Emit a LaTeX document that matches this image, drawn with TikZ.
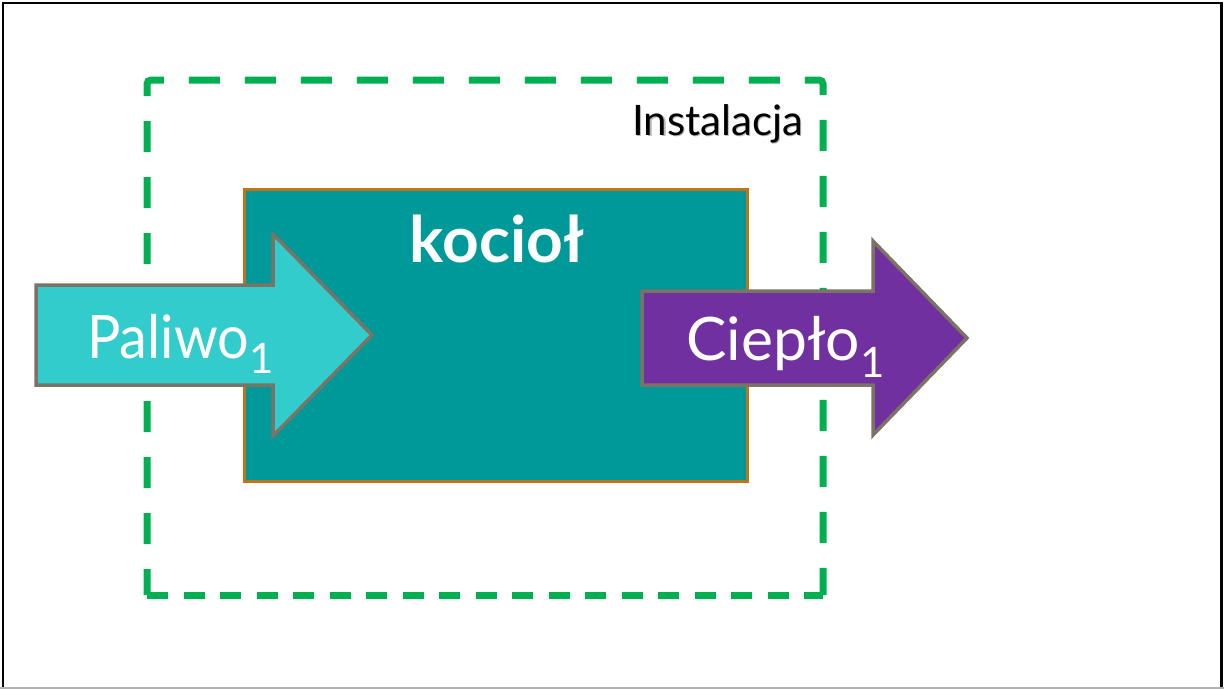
\documentclass[tikz,border=0pt]{standalone}
\usepackage{fontspec}
\setmainfont{Lato}
\definecolor{dgreen}{HTML}{00B050}
\definecolor{boxteal}{HTML}{009999}
\definecolor{boxedge}{HTML}{C0741A}
\definecolor{incyan}{HTML}{33CCCC}
\definecolor{outpurple}{HTML}{7030A0}
\definecolor{arredge}{HTML}{7A7366}
\tikzset{
  arrowshape/.style={draw=arredge, line width=3.5pt, line join=miter},
  flowtext/.style={text=white, anchor=base west, inner sep=0pt, font=\fontsize{60}{60}\selectfont},
  dashline/.style={draw=dgreen, line width=7pt},
}
\begin{document}
\begin{tikzpicture}[x=1pt,y=-1pt]
\useasboundingbox (0,0) rectangle (1224,689);
% frame
\draw[black, line width=2.5pt] (3,689) -- (3,3) -- (1221.5,3) -- (1221.5,689);
\draw[gray!60, line width=1.5pt] (0,688) -- (1224,688);
% dashed installation boundary
\draw[dashline, rounded corners=4pt, dash pattern=on 31pt off 25pt, dash phase=5pt]
  (147,595) -- (147,80) -- (823,80) -- (823,595);
\draw[dashline, dash pattern=on 21pt off 15.5pt] (147,595) -- (823,595);
% boiler box
\node[draw=boxedge, line width=2.5pt, fill=boxteal, minimum width=503pt, minimum height=292pt,
      inner sep=0pt, anchor=north west] (kociol) at (243,188) {};
\node[text=white, anchor=base, inner sep=0pt, font=\bfseries\fontsize{64}{64}\selectfont]
  (kocioltxt) at (497,262) {kocioł};
% installation label
\node[text=gray!55, anchor=base west, inner sep=0pt, font=\fontsize{42}{42}\selectfont]
  (instshadow) at (633.5,136.5) {Instalacja};
\node[text=black, anchor=base west, inner sep=0pt, font=\fontsize{42}{42}\selectfont]
  (inst) at (632,135) {Instalacja};
% input arrow
\draw[arrowshape, fill=incyan] (36,285) -- (273,285) -- (273,234) -- (372,335)
  -- (273,436) -- (273,385) -- (36,385) -- cycle;
\node[flowtext] (paliwo) at (87,358) {\scalebox{0.93}[1]{Paliwo}\raisebox{-15pt}{\fontsize{42}{42}\selectfont 1}};
% output arrow
\draw[arrowshape, fill=outpurple] (642,291) -- (873,291) -- (873,241) -- (967,338)
  -- (873,435) -- (873,385) -- (642,385) -- cycle;
\node[flowtext] (cieplo) at (686,360) {\scalebox{1.01}[1]{Ciepło}\raisebox{-17pt}{\fontsize{42}{42}\selectfont 1}};
\end{tikzpicture}
\end{document}
